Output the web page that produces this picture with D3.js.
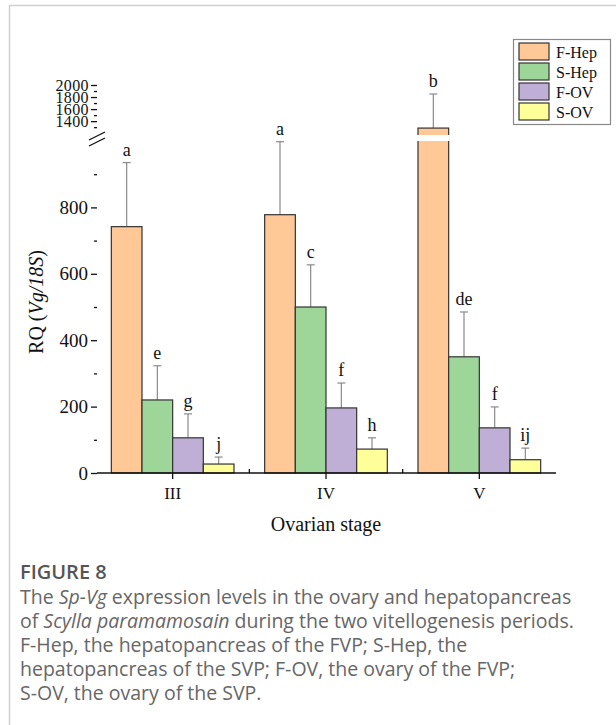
<!DOCTYPE html>
<html>
<head>
<meta charset="utf-8">
<script src="https://cdn.jsdelivr.net/npm/d3@7"></script>
<style>
  body { margin: 0; background: #fff; }
  svg { display: block; }
</style>
</head>
<body>
<div id="chart"></div>
<script>
const stages = ["III", "IV", "V"];
const groups = ["F-Hep", "S-Hep", "F-OV", "S-OV"];
const colors = ["#FFC896", "#9ED69A", "#BFAED6", "#FFFF99"];
// mean values per group, one entry per stage
const fHep = [742, 778, 1285];
const sHep = [220, 500, 350];
const fOv = [106, 196, 136];
const sOv = [27, 72, 40];
// top of error bars
const fHepErr = [935, 998, 1850];
const sHepErr = [323, 627, 485];
const fOvErr = [178, 271, 199];
const sOvErr = [48, 106, 75];
// significance letters
const fHepSig = ["a", "a", "b"];
const sHepSig = ["e", "c", "de"];
const fOvSig = ["g", "f", "f"];
const sOvSig = ["j", "h", "ij"];
const lowTicks = [0, 200, 400, 600, 800];
const highTicks = [1400, 1600, 1800, 2000];

const width = 616, height = 725;
const svg = d3.select("#chart").append("svg")
    .attr("width", width)
    .attr("height", height);

// card border
svg.append("path")
    .attr("d", "M9.5,725 V5.5 H616")
    .attr("fill", "none")
    .attr("stroke", "#cfcfcf")
    .attr("stroke-width", 1.5);

const axisX = 97;
const x = d3.scaleBand().domain(stages).range([96, 556]);
const xs = d3.scaleBand().domain(groups).range([0, x.bandwidth() * 0.8]);
const yLow = d3.scaleLinear().domain([0, 1000]).range([473, 141]);
const yHigh = d3.scaleLinear().domain([1170, 2083]).range([135, 80]);
const yOf = v => v > 1000 ? yHigh(v) : yLow(v);

const series = [
    { values: fHep, err: fHepErr, sig: fHepSig },
    { values: sHep, err: sHepErr, sig: sHepSig },
    { values: fOv, err: fOvErr, sig: fOvSig },
    { values: sOv, err: sOvErr, sig: sOvSig }
];

const rows = [];
series.forEach((s, gi) => {
    stages.forEach((st, si) => {
        rows.push({ stage: st, group: groups[gi], color: colors[gi],
            v: s.values[si], e: s.err[si], sig: s.sig[si] });
    });
});

const barX = d => x(d.stage) + x.bandwidth() * 0.1 + xs(d.group);

// error bars (behind bars)
const eb = svg.append("g");
rows.forEach(d => {
    const cx = barX(d) + xs.bandwidth() / 2;
    eb.append("line")
        .attr("x1", cx).attr("x2", cx)
        .attr("y1", yOf(d.v)).attr("y2", yOf(d.e))
        .attr("stroke", "#8a8a8a").attr("stroke-width", 1.2);
    eb.append("line")
        .attr("x1", cx - 4).attr("x2", cx + 4)
        .attr("y1", yOf(d.e)).attr("y2", yOf(d.e))
        .attr("stroke", "#8a8a8a").attr("stroke-width", 1.2);
    svg.append("text")
        .attr("x", cx)
        .attr("y", yOf(d.e) - 7)
        .attr("text-anchor", "middle")
        .style("font-family", "Liberation Serif")
        .style("font-size", "18px")
        .attr("fill", "#111")
        .text(d.sig);
});

// bars
svg.append("g").selectAll("rect")
    .data(rows)
    .enter().append("rect")
    .attr("x", barX)
    .attr("width", xs.bandwidth())
    .attr("y", d => yOf(d.v))
    .attr("height", d => yLow(0) - yOf(d.v))
    .attr("fill", d => d.color)
    .attr("stroke", "#333")
    .attr("stroke-width", 1.2);

// white gap on bars crossing the break
rows.filter(d => d.v > 1000).forEach(d => {
    svg.append("rect")
        .attr("x", barX(d) - 1)
        .attr("width", xs.bandwidth() + 2)
        .attr("y", yHigh(1170))
        .attr("height", yLow(1000) - yHigh(1170))
        .attr("fill", "#fff");
});

// lower y axis
const axLow = svg.append("g")
    .attr("transform", `translate(${axisX},0)`)
    .call(d3.axisLeft(yLow).tickValues(lowTicks).tickSize(6).tickPadding(3).tickFormat(d3.format("d")));
axLow.append("g").call(d3.axisLeft(yLow).tickValues(d3.range(100, 1000, 200)).tickSize(3).tickFormat(""));
axLow.selectAll("g .domain").remove();
axLow.select(".domain").attr("d", `M0,${yLow(0)}V${yLow(1000)}`);

// upper y axis
const axHigh = svg.append("g")
    .attr("transform", `translate(${axisX},0)`)
    .call(d3.axisLeft(yHigh).tickValues(highTicks).tickSize(6).tickPadding(2).tickFormat(d3.format("d")));
axHigh.append("g").call(d3.axisLeft(yHigh).tickValues(d3.range(1300, 2080, 200)).tickSize(3).tickFormat(""));
axHigh.selectAll("g .domain").remove();
axHigh.select(".domain").attr("d", `M0,${yHigh(1170)}V${yHigh(2083)}`);

[axLow, axHigh].forEach(a => {
    a.selectAll("path, line").attr("stroke", "#111").attr("stroke-width", 1.3);
    a.selectAll("text").style("font-family", "Liberation Serif").attr("fill", "#111");
});
axLow.selectAll("text").style("font-size", "19px");
axHigh.selectAll("text").style("font-size", "16px").attr("dy", "0.32em")
    .style("letter-spacing", "0.4px");

// break marks
[0, 6].forEach(off => {
    svg.append("line")
        .attr("x1", axisX - 8).attr("y1", 140 + off)
        .attr("x2", axisX + 8).attr("y2", 132 + off)
        .attr("stroke", "#111").attr("stroke-width", 1.3);
});

// x axis
const axB = svg.append("g")
    .attr("transform", `translate(0,${yLow(0)})`)
    .call(d3.axisBottom(x).tickSize(6).tickPadding(8));
axB.select(".domain").attr("d", `M${axisX},0H556`);
axB.selectAll("path, line").attr("stroke", "#111").attr("stroke-width", 1.3);
axB.selectAll("text").style("font-family", "Liberation Serif").style("font-size", "17px").attr("fill", "#111");
[1, 2].forEach(i => {
    const mx = x(stages[i]);
    svg.append("line")
        .attr("x1", mx).attr("x2", mx)
        .attr("y1", yLow(0)).attr("y2", yLow(0) - 4)
        .attr("stroke", "#111").attr("stroke-width", 1.3);
});

// axis titles
const yt = svg.append("text")
    .attr("transform", "translate(43,302) rotate(-90)")
    .attr("text-anchor", "middle")
    .style("font-family", "Liberation Serif")
    .style("font-size", "20px")
    .attr("fill", "#111");
yt.append("tspan").text("RQ (");
yt.append("tspan").style("font-style", "italic").text("Vg/18S");
yt.append("tspan").text(")");

svg.append("text")
    .attr("x", 326).attr("y", 531)
    .attr("text-anchor", "middle")
    .style("font-family", "Liberation Serif")
    .style("font-size", "20px")
    .attr("fill", "#111")
    .text("Ovarian stage");

// legend
const lg = svg.append("g");
lg.append("rect")
    .attr("x", 513.5).attr("y", 39.5)
    .attr("width", 97).attr("height", 85)
    .attr("fill", "#fff").attr("stroke", "#888").attr("stroke-width", 1.2);
groups.forEach((g, i) => {
    lg.append("rect")
        .attr("x", 519).attr("y", 43 + i * 20)
        .attr("width", 30).attr("height", 17)
        .attr("fill", colors[i]).attr("stroke", "#333").attr("stroke-width", 1.2);
    lg.append("text")
        .attr("x", 556).attr("y", 52 + i * 20)
        .attr("dy", "0.35em")
        .style("font-family", "Liberation Serif")
        .style("font-size", "16px")
        .attr("fill", "#111")
        .text(g);
});

// caption
const cap = svg.append("g").style("font-family", "Open Sans");
cap.append("text")
    .attr("x", 20).attr("y", 579)
    .style("font-size", "20px").style("font-weight", "600")
    .attr("fill", "#555")
    .text("FIGURE 8");
const lines = [
    [["The ", false], ["Sp-Vg", true], [" expression levels in the ovary and hepatopancreas", false]],
    [["of ", false], ["Scylla paramamosain", true], [" during the two vitellogenesis periods.", false]],
    [["F-Hep, the hepatopancreas of the FVP; S-Hep, the", false]],
    [["hepatopancreas of the SVP; F-OV, the ovary of the FVP;", false]],
    [["S-OV, the ovary of the SVP.", false]]
];
lines.forEach((ln, i) => {
    const t = cap.append("text")
        .attr("x", 20).attr("y", 604 + i * 24)
        .style("font-size", "19.5px")
        .attr("fill", "#666");
    ln.forEach(([s, it]) => {
        t.append("tspan").style("font-style", it ? "italic" : "normal").text(s);
    });
});
</script>
</body>
</html>
